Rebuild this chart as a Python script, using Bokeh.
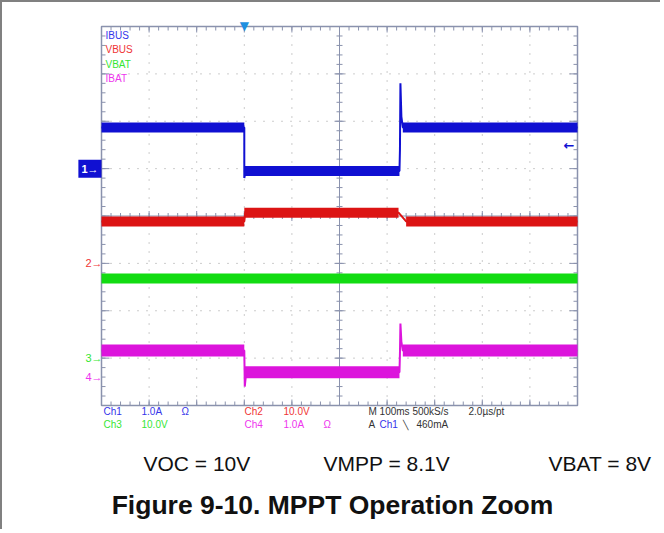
from bokeh.plotting import figure
from bokeh.models import Range1d, Label
from bokeh.embed import file_html
from bokeh.resources import INLINE

# ---------------- data (read from the scope capture) ----------------
# time axis: ms relative to trigger, 100 ms/div, trigger at 3rd division
T_START, T_END = -300, 700
T_DIV = 100
N_YDIV = 4            # +/- 4 vertical divisions

# channel settings: units per division, ground marker position (divisions)
ch1_scale, ch1_gnd = 1.0, 1.0     # IBUS  1.0 A/div
ch2_scale, ch2_gnd = 10.0, -1.0   # VBUS 10.0 V/div
ch3_scale, ch3_gnd = 10.0, -3.0   # VBAT 10.0 V/div
ch4_scale, ch4_gnd = 1.0, -3.4    # IBAT  1.0 A/div

# IBUS (A): flat levels and full trace with edges / spike
ibus_lvl_t0 = [-300, 0, 333]
ibus_lvl_t1 = [0, 326, 700]
ibus_lvl_v = [0.87, -0.05, 0.87]
ibus_t = [-300, 0, 0, 3, 326, 327, 328, 330, 333, 700]
ibus_v = [0.87, 0.87, -0.2, -0.05, -0.05, 0.4, 1.8, 1.1, 0.87, 0.87]

# VBUS (V)
vbus_lvl_t0 = [-300, 0, 340]
vbus_lvl_t1 = [0, 324, 700]
vbus_lvl_v = [8.85, 10.7, 8.85]
vbus_t = [-300, 0, 2, 324, 340, 700]
vbus_v = [8.85, 8.85, 10.7, 10.7, 8.85, 8.85]

# VBAT (V)
vbat_lvl_t0 = [-300]
vbat_lvl_t1 = [700]
vbat_lvl_v = [16.8]

# IBAT (A)
ibat_lvl_t0 = [-300, 0, 333]
ibat_lvl_t1 = [0, 326, 700]
ibat_lvl_v = [0.56, 0.10, 0.56]
ibat_t = [-300, 0, 1, 4, 326, 327, 328, 330, 333, 700]
ibat_v = [0.56, 0.56, -0.2, 0.10, 0.10, 0.5, 1.13, 0.75, 0.56, 0.56]

trig_level = 0.46   # A on Ch1

# ---------------- layout helpers ----------------
FONT = "Liberation Sans"
C_BLUE, C_RED, C_GREEN, C_MAG = "#1010d2", "#dc1414", "#12dc12", "#dc14dc"
T_BLUE, T_RED, T_GREEN, T_MAG = "#3535ea", "#ef3535", "#35e635", "#ee35ee"
TICK = "#8a92ad"
GRIDC = "#9a9a9a"

# scope graticule position on the page (pixels)
FR_L, FR_T, DIV_W, DIV_H = 101, 26, 47.6, 47.375
PX_T = T_DIV / DIV_W      # ms per pixel
PX_D = 1 / DIV_H          # divisions per pixel

def tx(px):   # page pixel -> time
    return T_START + (px - FR_L) * PX_T

def dy(py):   # page pixel -> divisions
    return N_YDIV - (py - FR_T) * PX_D

W, H, BORDER = 660, 529, 2
y_lo, y_hi = dy(BORDER + H), dy(BORDER)

def rng(scale, gnd):
    return Range1d((y_lo - gnd) * scale, (y_hi - gnd) * scale)

p = figure(width=W, height=H, output_backend="svg", toolbar_location=None,
           x_range=Range1d(tx(BORDER), tx(BORDER + W)), y_range=Range1d(y_lo, y_hi),
           x_axis_type=None, y_axis_type=None,
           min_border_left=0, min_border_right=0, min_border_top=0, min_border_bottom=0)
p.styles = {"border-left": "2px solid #808080", "border-top": "2px solid #808080"}
p.extra_y_ranges = {"ch1": rng(ch1_scale, ch1_gnd), "ch2": rng(ch2_scale, ch2_gnd),
                    "ch3": rng(ch3_scale, ch3_gnd), "ch4": rng(ch4_scale, ch4_gnd)}
p.outline_line_color = None
p.background_fill_color = "white"
p.border_fill_color = "white"
p.xgrid.visible = False
p.ygrid.visible = False

x_major = list(range(T_START, T_END + 1, T_DIV))
x_minor = list(range(T_START, T_END + 1, T_DIV // 5))
y_major = list(range(-N_YDIV, N_YDIV + 1))
y_minor = [i / 5 for i in range(-5 * N_YDIV, 5 * N_YDIV + 1)]
T_MID = (T_START + T_END) / 2

# dotted graticule
gx = [t for t in x_major[1:-1] if t != T_MID]
gy = [d for d in y_major[1:-1] if d != 0]
p.segment(x0=gx, x1=gx, y0=[-N_YDIV] * len(gx), y1=[N_YDIV] * len(gx),
          line_color=GRIDC, line_dash="1 8", line_width=1)
p.segment(x0=[T_START] * len(gy), x1=[T_END] * len(gy), y0=gy, y1=gy,
          line_color=GRIDC, line_dash="1 8", line_width=1)
# centre cross
p.segment(x0=[T_MID, T_START], x1=[T_MID, T_END], y0=[-N_YDIV, 0], y1=[N_YDIV, 0],
          line_color=TICK, line_width=1)

# ticks
def vticks(xs, y_base, up, down):
    p.segment(x0=xs, x1=xs, y0=[y_base - down * PX_D] * len(xs),
              y1=[y_base + up * PX_D] * len(xs), line_color=TICK, line_width=1)

def hticks(ys, x_base, right, left):
    p.segment(x0=[x_base - left * PX_T] * len(ys), x1=[x_base + right * PX_T] * len(ys),
              y0=ys, y1=ys, line_color=TICK, line_width=1)

vticks(x_minor, N_YDIV, 0, 4)        # top edge
vticks(x_major, N_YDIV, 0, 6)
vticks(x_minor, -N_YDIV, 4, 0)       # bottom edge
vticks(x_major, -N_YDIV, 6, 0)
vticks(x_minor, 0, 3, 3)             # horizontal centre line
vticks(x_major, 0, 5, 5)
hticks(y_minor, T_START, 4, 0)       # left edge
hticks(y_major, T_START, 8, 0)
hticks(y_minor, T_END, 0, 4)         # right edge
hticks(y_major, T_END, 0, 8)
hticks(y_minor, T_MID, 3, 3)         # vertical centre line
hticks(y_major, T_MID, 5, 5)

# graticule frame
p.quad(left=[T_START], right=[T_END], bottom=[-N_YDIV], top=[N_YDIV],
       fill_color=None, line_color=TICK, line_width=1.5)

# traces
p.segment(x0=vbat_lvl_t0, x1=vbat_lvl_t1, y0=vbat_lvl_v, y1=vbat_lvl_v,
          y_range_name="ch3", line_color=C_GREEN, line_width=10)
p.segment(x0=vbus_lvl_t0, x1=vbus_lvl_t1, y0=vbus_lvl_v, y1=vbus_lvl_v,
          y_range_name="ch2", line_color=C_RED, line_width=10)
p.line(vbus_t, vbus_v, y_range_name="ch2", line_color=C_RED, line_width=2)
p.segment(x0=ibat_lvl_t0, x1=ibat_lvl_t1, y0=ibat_lvl_v, y1=ibat_lvl_v,
          y_range_name="ch4", line_color=C_MAG, line_width=12)
p.line(ibat_t, ibat_v, y_range_name="ch4", line_color=C_MAG, line_width=2)
p.segment(x0=ibus_lvl_t0, x1=ibus_lvl_t1, y0=ibus_lvl_v, y1=ibus_lvl_v,
          y_range_name="ch1", line_color=C_BLUE, line_width=10)
p.line(ibus_t, ibus_v, y_range_name="ch1", line_color=C_BLUE, line_width=2)

# ---------------- text ----------------
def txt(s, x, y, color, size="10px", style="normal", align="left", **kw):
    p.add_layout(Label(x=x, y=y, text=s, text_color=color, text_font=FONT,
                       text_font_size=size, text_font_style=style, text_align=align,
                       text_baseline="middle", **kw))

# trace names
txt("IBUS", tx(105), dy(35), T_BLUE)
txt("VBUS", tx(105), dy(49), T_RED)
txt("VBAT", tx(105), dy(63.5), T_GREEN)
txt("IBAT", tx(105), dy(78), T_MAG)

# channel ground markers
p.add_layout(Label(x=T_START, y=0, y_range_name="ch1", text="1\u2192", text_color="white",
                   text_font=FONT, text_font_size="11px", text_font_style="bold",
                   text_align="right", text_baseline="middle",
                   background_fill_color=C_BLUE, padding=3))
for name, lab, col in (("ch2", "2\u2192", T_RED), ("ch3", "3\u2192", T_GREEN),
                       ("ch4", "4\u2192", T_MAG)):
    p.add_layout(Label(x=T_START, y=0, y_range_name=name, text=lab, text_color=col,
                       text_font=FONT, text_font_size="11px", text_align="right",
                       text_baseline="middle", x_offset=1))
# trigger level and position
p.add_layout(Label(x=T_END, y=trig_level, y_range_name="ch1", text="\u2190", text_color=C_BLUE,
                   text_font="DejaVu Sans", text_font_size="13px", text_font_style="bold",
                   text_align="right", text_baseline="middle", x_offset=-3, y_offset=1))
p.add_layout(Label(x=0, y=dy(25), text="\u25BC", text_color="#1e8fe0", text_font="DejaVu Sans",
                   text_font_size="12px", text_align="center", text_baseline="middle"))

# scope settings block
r1, r2 = dy(411), dy(424)
txt("Ch1", tx(103), r1, T_BLUE)
txt("1.0A", tx(141), r1, T_BLUE)
txt("\u03a9", tx(181), r1, T_BLUE)
txt("Ch2", tx(244), r1, T_RED)
txt("10.0V", tx(283), r1, T_RED)
txt("M 100ms 500kS/s", tx(368), r1, "#333333")
txt("2.0\u00b5s/pt", tx(468), r1, "#333333")
txt("Ch3", tx(103), r2, T_GREEN)
txt("10.0V", tx(141), r2, T_GREEN)
txt("Ch4", tx(244), r2, T_MAG)
txt("1.0A", tx(283), r2, T_MAG)
txt("\u03a9", tx(323), r2, T_MAG)
txt("A", tx(368), r2, "#333333")
txt("Ch1", tx(379), r2, T_BLUE)
txt("\u2572", tx(402), r2, "#333333", size="9px")
txt("460mA", tx(416), r2, "#333333")

# captions
txt("VOC = 10V", tx(143), dy(463), "#111111", size="21px")
txt("VMPP = 8.1V", tx(323), dy(463), "#111111", size="21px")
txt("VBAT = 8V", tx(651), dy(463), "#111111", size="21px", align="right")
txt("Figure 9-10. MPPT Operation Zoom", tx(332), dy(504), "#111111", size="26.5px",
    style="bold", align="center")

open("out.html", "w").write(file_html(p, INLINE))
